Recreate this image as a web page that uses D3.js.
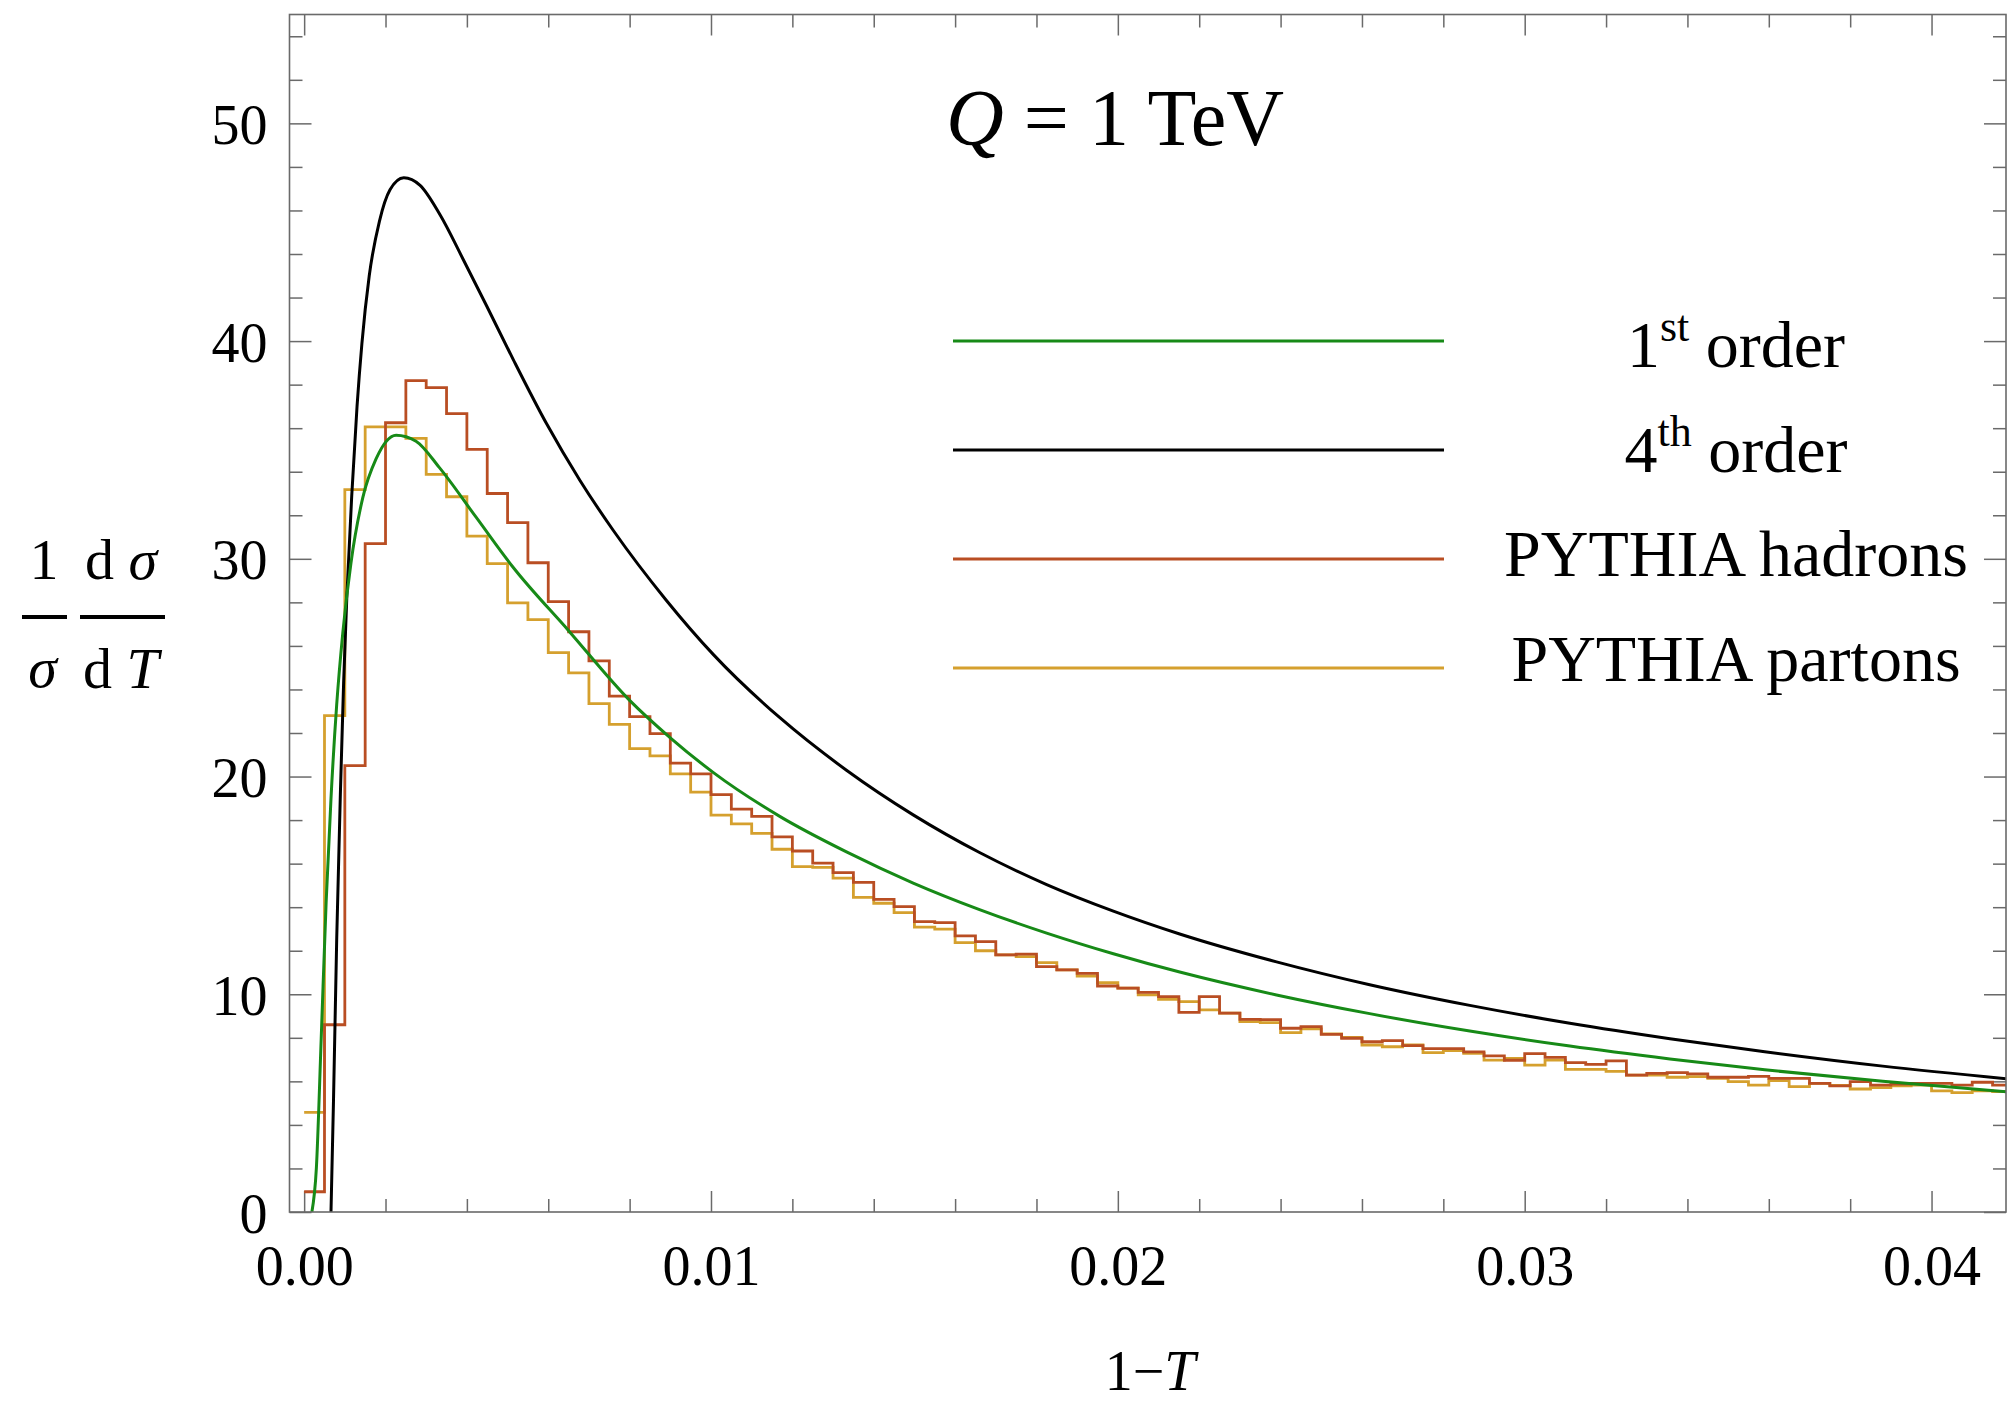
<!DOCTYPE html>
<html>
<head>
<meta charset="utf-8">
<script src="https://cdn.jsdelivr.net/npm/d3@7"></script>
<style>
  body { margin: 0; background: #fff; }
  svg { display: block; background: #fff; }
  text { font-family: "Liberation Serif", "Times New Roman", serif; fill: #000; }
</style>
</head>
<body>
<svg id="chart" width="2008" height="1404"></svg>
<script>
// histogram bins start at 1-T = 0, each one this wide
var binWidth = 0.0005;

// PYTHIA hadron level, one value per bin
var hadrons = [
  0.93, 8.6, 20.5, 30.7, 36.25, 38.18, 37.86, 36.67, 35.03, 33.0,
  31.66, 29.82, 28.03, 26.65, 25.31, 23.69, 22.75, 21.97, 20.62, 20.12,
  19.17, 18.5, 18.17, 17.23, 16.58, 16.02, 15.59, 15.14, 14.36, 14.03,
  13.34, 13.29, 12.68, 12.42, 11.81, 11.84, 11.27, 11.12, 10.96, 10.38,
  10.28, 10.09, 9.89, 9.17, 9.89, 9.13, 8.85, 8.84, 8.44, 8.51,
  8.16, 7.98, 7.82, 7.87, 7.64, 7.5, 7.5, 7.35, 7.17, 6.97,
  7.27, 7.1, 6.86, 6.78, 6.94, 6.29, 6.37, 6.4, 6.34, 6.19,
  6.19, 6.23, 6.14, 6.14, 5.91, 5.79, 5.99, 5.83, 5.88, 5.91,
  5.91, 5.83, 5.96, 5.83
];

// PYTHIA parton level, one value per bin
var partons = [
  4.58, 22.8, 33.18, 36.06, 36.06, 35.53, 33.88, 32.85, 31.04, 29.78,
  27.98, 27.21, 25.69, 24.76, 23.35, 22.4, 21.28, 20.95, 20.12, 19.28,
  18.23, 17.83, 17.39, 16.66, 15.86, 15.83, 15.33, 14.45, 14.18, 13.75,
  13.08, 12.99, 12.37, 12.0, 11.81, 11.73, 11.45, 11.12, 10.84, 10.53,
  10.28, 9.97, 9.77, 9.66, 9.28, 9.13, 8.74, 8.7, 8.24, 8.41,
  8.18, 8.02, 7.67, 7.59, 7.67, 7.32, 7.41, 7.29, 6.98, 7.06,
  6.75, 6.98, 6.55, 6.55, 6.46, 6.29, 6.29, 6.19, 6.22, 6.14,
  5.99, 5.83, 6.03, 5.76, 5.91, 5.82, 5.65, 5.71, 5.79, 5.83,
  5.56, 5.48, 5.56, 5.53
];

// 1st order resummed curve
var firstOrderT = [
  0.00019, 0.0003, 0.00042, 0.00054, 0.00066, 0.0008, 0.00095, 0.00115, 0.00144, 0.00177,
  0.00226, 0.00275, 0.00332, 0.00423, 0.00514, 0.0065, 0.008, 0.009, 0.01006, 0.0117,
  0.01333, 0.01497, 0.0166, 0.01825, 0.01989, 0.02152, 0.0239, 0.02619, 0.02865, 0.03111,
  0.03357, 0.0359, 0.0388, 0.0419
];
var firstOrderV = [
  0, 2.0, 8.0, 14.2, 19.0, 23.3, 26.6, 29.8, 32.8, 34.6,
  35.68, 35.4, 34.2, 31.9, 29.6, 26.7, 23.5, 21.78, 20.18, 18.16,
  16.54, 15.11, 13.89, 12.81, 11.86, 11.02, 9.97, 9.11, 8.31, 7.62,
  7.03, 6.53, 6.0, 5.51
];

// 4th order resummed curve
var fourthOrderT = [
  0.00066, 0.00072, 0.0008, 0.00089, 0.00097, 0.00105, 0.00117, 0.0013, 0.00142, 0.0016,
  0.00185, 0.00211, 0.00245, 0.00285, 0.00334, 0.00391, 0.00449, 0.00514, 0.00596, 0.00678,
  0.0076, 0.0089, 0.01006, 0.0117, 0.01333, 0.01497, 0.0166, 0.01825, 0.01989, 0.02152,
  0.0239, 0.02619, 0.02865, 0.03111, 0.03357, 0.0359, 0.0388, 0.0419
];
var fourthOrderV = [
  0, 5.0, 12.5, 19.2, 24.3, 28.3, 32.9, 37.0, 39.9, 43.0,
  45.5, 46.95, 47.5, 47.15, 45.8, 43.75, 41.6, 39.15, 36.2, 33.6,
  31.3, 28.1, 25.6, 22.69, 20.29, 18.24, 16.51, 15.04, 13.82, 12.77,
  11.49, 10.44, 9.49, 8.67, 7.96, 7.36, 6.7, 6.11
];

var xTicks = [0, 0.01, 0.02, 0.03, 0.04];
var xTickLabels = ['0.00', '0.01', '0.02', '0.03', '0.04'];
var yTicks = [0, 10, 20, 30, 40, 50];

var legendNames = [['1', 'st', ' order'], ['4', 'th', ' order'], ['PYTHIA hadrons'], ['PYTHIA partons']];
var legendColors = ['#178a17', '#000000', '#b94e23', '#d5a02e'];

var svg = d3.select('#chart');

var plot = {left: 289.5, right: 2006, top: 14.5, bottom: 1212};

var x = d3.scaleLinear().domain([-0.00036, 0.04183]).range([plot.left, plot.right]);
var y = d3.scaleLinear().domain([0, 55]).range([plot.bottom, plot.top]);

svg.append('defs').append('clipPath').attr('id', 'clip')
  .append('rect')
  .attr('x', plot.left).attr('y', plot.top)
  .attr('width', plot.right - plot.left).attr('height', plot.bottom - plot.top);

// tick sets
var xMinor = d3.range(0, 21).map(function(i) { return i * 0.002; }).filter(function(d, i) { return i % 5 !== 0; });
var yMinor = d3.range(0, 28).map(function(i) { return i * 2; }).filter(function(d, i) { return i % 5 !== 0; });
var tickColor = '#6a6a6a';

function styleAxis(g) {
  g.select('.domain').remove();
  g.selectAll('line').attr('stroke', tickColor).attr('stroke-width', 1.5);
  g.attr('font-family', null).attr('font-size', 56);
  g.selectAll('text').attr('fill', '#000');
}

// bottom
svg.append('g').attr('transform', 'translate(0,' + plot.bottom + ')')
  .call(d3.axisBottom(x).tickValues(xMinor).tickSizeInner(-13).tickSizeOuter(0).tickFormat(''))
  .call(styleAxis);
svg.append('g').attr('transform', 'translate(0,' + plot.bottom + ')')
  .call(d3.axisBottom(x).tickValues(xTicks).tickSizeInner(-21).tickSizeOuter(0).tickPadding(33)
    .tickFormat(function(d, i) { return xTickLabels[i]; }))
  .call(styleAxis);

// top
svg.append('g').attr('transform', 'translate(0,' + plot.top + ')')
  .call(d3.axisTop(x).tickValues(xMinor).tickSizeInner(-13).tickSizeOuter(0).tickFormat(''))
  .call(styleAxis);
svg.append('g').attr('transform', 'translate(0,' + plot.top + ')')
  .call(d3.axisTop(x).tickValues(xTicks).tickSizeInner(-21).tickSizeOuter(0).tickFormat(''))
  .call(styleAxis);

// left
svg.append('g').attr('transform', 'translate(' + plot.left + ',0)')
  .call(d3.axisLeft(y).tickValues(yMinor).tickSizeInner(-13).tickSizeOuter(0).tickFormat(''))
  .call(styleAxis);
svg.append('g').attr('transform', 'translate(' + plot.left + ',0)')
  .call(d3.axisLeft(y).tickValues(yTicks).tickSizeInner(-22).tickSizeOuter(0).tickPadding(22))
  .call(styleAxis)
  .selectAll('text').attr('dy', '0.36em');

// right
svg.append('g').attr('transform', 'translate(' + plot.right + ',0)')
  .call(d3.axisRight(y).tickValues(yMinor).tickSizeInner(-13).tickSizeOuter(0).tickFormat(''))
  .call(styleAxis);
svg.append('g').attr('transform', 'translate(' + plot.right + ',0)')
  .call(d3.axisRight(y).tickValues(yTicks).tickSizeInner(-22).tickSizeOuter(0).tickFormat(''))
  .call(styleAxis);

// data
var data = svg.append('g').attr('clip-path', 'url(#clip)');

var stepLine = d3.line()
  .x(function(d) { return x(d[0]); })
  .y(function(d) { return y(d[1]); })
  .curve(d3.curveStepAfter);

function binPoints(values) {
  var pts = values.map(function(v, i) { return [i * binWidth, v]; });
  pts.push([values.length * binWidth, values[values.length - 1]]);
  return pts;
}

var smoothLine = d3.line()
  .x(function(d) { return x(d[0]); })
  .y(function(d) { return y(d[1]); })
  .curve(d3.curveMonotoneX);

data.append('path').datum(binPoints(partons))
  .attr('d', stepLine).attr('fill', 'none')
  .attr('stroke', legendColors[3]).attr('stroke-width', 2.8);

data.append('path').datum(binPoints(hadrons))
  .attr('d', stepLine).attr('fill', 'none')
  .attr('stroke', legendColors[2]).attr('stroke-width', 2.8);

data.append('path').datum(d3.zip(fourthOrderT, fourthOrderV))
  .attr('d', smoothLine).attr('fill', 'none')
  .attr('stroke', legendColors[1]).attr('stroke-width', 3);

data.append('path').datum(d3.zip(firstOrderT, firstOrderV))
  .attr('d', smoothLine).attr('fill', 'none')
  .attr('stroke', legendColors[0]).attr('stroke-width', 3);

// frame
svg.append('rect')
  .attr('x', plot.left).attr('y', plot.top)
  .attr('width', plot.right - plot.left).attr('height', plot.bottom - plot.top)
  .attr('fill', 'none').attr('stroke', tickColor).attr('stroke-width', 1.6);

// title
var title = svg.append('text').attr('x', 946).attr('y', 144.5).attr('font-size', 80);
title.append('tspan').attr('font-style', 'italic').text('Q');
title.append('tspan').text(' = 1 TeV');

// legend
var legend = svg.append('g');
legendNames.forEach(function(parts, i) {
  legend.append('line')
    .attr('x1', 953).attr('x2', 1444)
    .attr('y1', 341 + 109 * i).attr('y2', 341 + 109 * i)
    .attr('stroke', legendColors[i]).attr('stroke-width', 3);

  var t = legend.append('text')
    .attr('x', 1736).attr('y', 367 + 104.5 * i)
    .attr('text-anchor', 'middle').attr('font-size', 66);
  if (parts.length === 3) {
    t.append('tspan').text(parts[0]);
    t.append('tspan').attr('font-size', 44).attr('dy', -26).text(parts[1]);
    t.append('tspan').attr('dy', 26).text(parts[2]);
  } else {
    t.text(parts[0]);
  }
});

// x axis title
var xt = svg.append('text').attr('x', 1150).attr('y', 1390)
  .attr('text-anchor', 'middle').attr('font-size', 56);
xt.append('tspan').text('1\u2212');
xt.append('tspan').attr('font-style', 'italic').text('T');

// y axis title: 1/sigma dsigma/dT
var yl = svg.append('g').attr('font-size', 58);
yl.append('text').attr('x', 44).attr('y', 579).attr('text-anchor', 'middle').text('1');
yl.append('text').attr('x', 42.5).attr('y', 687).attr('text-anchor', 'middle')
  .attr('font-style', 'italic').text('\u03c3');
var num = yl.append('text').attr('x', 121).attr('y', 579).attr('text-anchor', 'middle');
num.append('tspan').text('d ');
num.append('tspan').attr('font-style', 'italic').text('\u03c3');
var den = yl.append('text').attr('x', 121).attr('y', 688).attr('text-anchor', 'middle');
den.append('tspan').text('d ');
den.append('tspan').attr('font-style', 'italic').text('T');
yl.append('line').attr('x1', 22).attr('x2', 67).attr('y1', 617).attr('y2', 617)
  .attr('stroke', '#000').attr('stroke-width', 4);
yl.append('line').attr('x1', 80).attr('x2', 165).attr('y1', 617).attr('y2', 617)
  .attr('stroke', '#000').attr('stroke-width', 4);
</script>
</body>
</html>
